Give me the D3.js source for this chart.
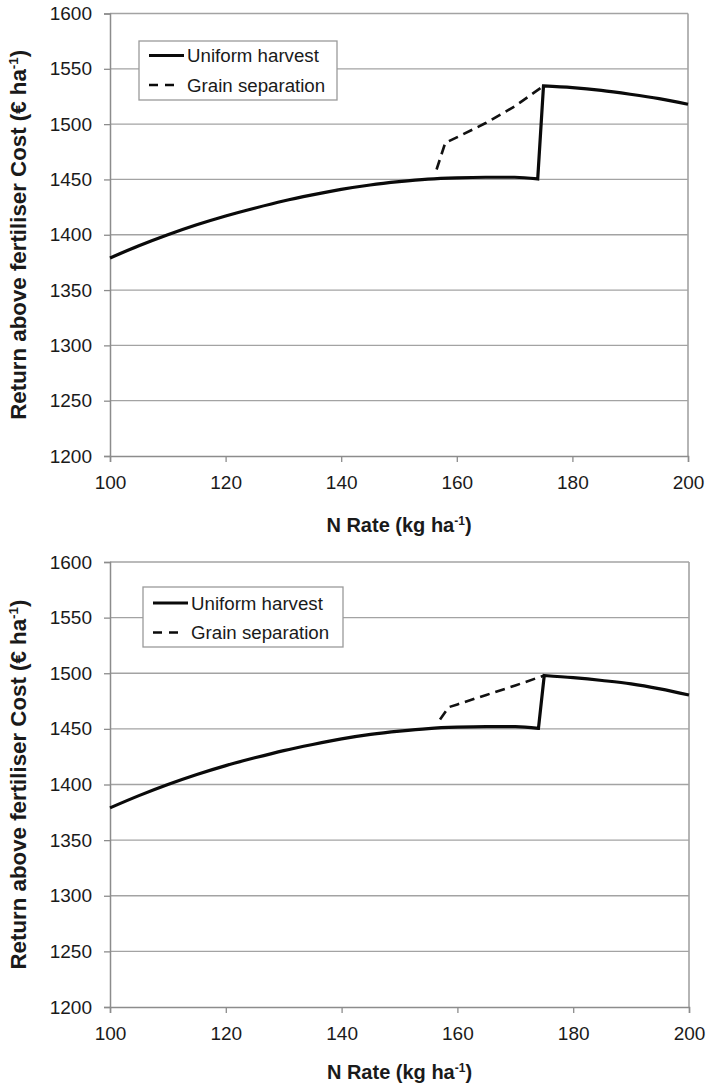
<!DOCTYPE html>
<html>
<head>
<meta charset="utf-8">
<script src="https://cdn.jsdelivr.net/npm/d3@7"></script>
<style>
  html, body { margin: 0; padding: 0; background: #fff; }
  svg { display: block; }
  text { font-family: "Liberation Sans", Arial, Helvetica, sans-serif; fill: #1a1a1a; }
</style>
</head>
<body>
<svg id="chart" width="707" height="1085"></svg>
<script>
// ---- Data ----
const xTicks = [100, 120, 140, 160, 180, 200];
const yTicks = [1200, 1250, 1300, 1350, 1400, 1450, 1500, 1550, 1600];
const seriesNames = ["Uniform harvest", "Grain separation"];
const xLabel = "N Rate (kg ha";
const yLabel = "Return above fertiliser Cost (€ ha";
const jumpAt = 175; // N rate where the uniform-harvest curve jumps

// Panel A (top)
const uniformXA = [100, 105, 110, 115, 120, 125, 130, 135, 140, 145, 150, 155, 160, 165, 170, 174, 175, 180, 185, 190, 195, 200];
const uniformYA = [1379, 1390, 1400, 1409, 1417, 1424, 1430.5, 1436, 1441, 1445, 1448, 1450.3, 1451.5, 1452, 1452, 1450.5, 1534.5, 1533, 1530.5, 1527, 1523, 1518];
const grainXA = [156.5, 158, 160, 165, 170, 175];
const grainYA = [1459, 1483, 1488, 1501, 1516, 1534.5];

// Panel B (bottom)
const uniformXB = [100, 105, 110, 115, 120, 125, 130, 135, 140, 145, 150, 155, 160, 165, 170, 174, 175, 180, 185, 190, 195, 200];
const uniformYB = [1379, 1390, 1400, 1409, 1417, 1424, 1430.5, 1436, 1441, 1445, 1448, 1450.3, 1451.5, 1452, 1452, 1450.5, 1498, 1496, 1493.5, 1490.5, 1486, 1480.5];
const grainXB = [157, 158.5, 160, 165, 170, 175];
const grainYB = [1458.5, 1469.5, 1472, 1480.5, 1489, 1498];

const svg = d3.select("#chart");

function drawPanel(cfg) {
  const g = svg.append("g");
  const x = d3.scaleLinear().domain([100, 200]).range([cfg.left, cfg.right]);
  const y = d3.scaleLinear().domain([1200, 1600]).range([cfg.bottom, cfg.top]);
  const gridColor = "#a3a3a3";
  const font = '"Liberation Sans", Arial, sans-serif';

  // gridlines
  g.append("g").selectAll("line").data(yTicks.filter(d => d > 1200)).join("line")
    .attr("x1", cfg.left).attr("x2", cfg.right)
    .attr("y1", d => y(d)).attr("y2", d => y(d))
    .attr("stroke", gridColor).attr("stroke-width", 1.3);
  // right border
  g.append("line").attr("x1", cfg.right).attr("x2", cfg.right)
    .attr("y1", cfg.top).attr("y2", cfg.bottom)
    .attr("stroke", gridColor).attr("stroke-width", 1.6);

  // y axis
  const yAxis = d3.axisLeft(y).tickValues(yTicks).tickSize(6).tickPadding(12).tickFormat(d3.format("d"));
  const ya = g.append("g").attr("transform", `translate(${cfg.left},0)`).call(yAxis);
  ya.select(".domain").attr("stroke", "#8c8c8c").attr("stroke-width", 1.5);
  ya.selectAll(".tick line").attr("stroke", "#8c8c8c").attr("stroke-width", 1.3);
  ya.selectAll(".tick text").attr("font-size", 19).attr("fill", "#1a1a1a").style("font-family", font);

  // x axis
  const xAxis = d3.axisBottom(x).tickValues(xTicks).tickSize(6).tickPadding(14).tickFormat(d3.format("d"));
  const xa = g.append("g").attr("transform", `translate(0,${cfg.bottom})`).call(xAxis);
  xa.select(".domain").attr("stroke", "#8c8c8c").attr("stroke-width", 1.5);
  xa.selectAll(".tick line").attr("stroke", "#8c8c8c").attr("stroke-width", 1.3);
  xa.selectAll(".tick text").attr("font-size", 19).attr("fill", "#1a1a1a").style("font-family", font);

  // lines
  const smooth = d3.line().x(d => x(d[0])).y(d => y(d[1])).curve(d3.curveMonotoneX);
  const straight = d3.line().x(d => x(d[0])).y(d => y(d[1])).curve(d3.curveLinear);
  const pts = d3.zip(cfg.ux, cfg.uy);
  const before = pts.filter(d => d[0] < jumpAt);
  const after = pts.filter(d => d[0] >= jumpAt);
  const uniformPath = smooth(before) + smooth(after).replace(/^M/, "L");

  g.append("path").datum(d3.zip(cfg.gx, cfg.gy)).attr("d", straight)
    .attr("fill", "none").attr("stroke", "#111").attr("stroke-width", 2.6)
    .attr("stroke-dasharray", "10,6");
  g.append("path").attr("d", uniformPath)
    .attr("fill", "none").attr("stroke", "#0a0a0a").attr("stroke-width", 3.2)
    .attr("stroke-linejoin", "miter");

  // legend
  const lg = g.append("g");
  lg.append("rect").attr("x", cfg.leg.x).attr("y", cfg.leg.y).attr("width", cfg.leg.w).attr("height", cfg.leg.h)
    .attr("fill", "#fff").attr("stroke", "#9a9a9a").attr("stroke-width", 1.3);
  seriesNames.forEach((name, i) => {
    const cy = cfg.leg.y + cfg.leg.r0 + i * 29.5;
    lg.append("line").attr("x1", cfg.leg.x + 10).attr("x2", cfg.leg.x + (i === 0 ? 45 : 40))
      .attr("y1", cy).attr("y2", cy)
      .attr("stroke", "#0a0a0a").attr("stroke-width", i === 0 ? 3.2 : 2.6)
      .attr("stroke-dasharray", i === 0 ? null : "9,7");
    lg.append("text").attr("x", cfg.leg.x + 48).attr("y", cy).attr("dy", "0.35em")
      .attr("font-size", 18.7).text(name);
  });

  // x title
  const xt = g.append("text").attr("x", (cfg.left + cfg.right) / 2).attr("y", cfg.xTitleY)
    .attr("text-anchor", "middle").attr("font-size", 20).attr("font-weight", "bold");
  xt.append("tspan").text(xLabel);
  xt.append("tspan").attr("dy", -7).attr("font-size", 12).text("-1");
  xt.append("tspan").attr("dy", 7).text(")");

  // y title
  const yt = g.append("text")
    .attr("transform", `translate(${cfg.yTitleX},${(cfg.top + cfg.bottom) / 2}) rotate(-90)`)
    .attr("text-anchor", "middle").attr("font-size", 22.3).attr("font-weight", "bold");
  yt.append("tspan").text(yLabel);
  yt.append("tspan").attr("dy", -8).attr("font-size", 13.5).text("-1");
  yt.append("tspan").attr("dy", 8).text(")");
}

drawPanel({
  left: 110, right: 688, top: 13.5, bottom: 456,
  ux: uniformXA, uy: uniformYA, gx: grainXA, gy: grainYA,
  leg: { x: 139, y: 41, w: 198, h: 59, r0: 14.5 },
  xTitleY: 532, yTitleX: 26
});
drawPanel({
  left: 110, right: 689, top: 562, bottom: 1007,
  ux: uniformXB, uy: uniformYB, gx: grainXB, gy: grainYB,
  leg: { x: 143, y: 587, w: 200, h: 60, r0: 16 },
  xTitleY: 1079, yTitleX: 26
});
</script>
</body>
</html>
